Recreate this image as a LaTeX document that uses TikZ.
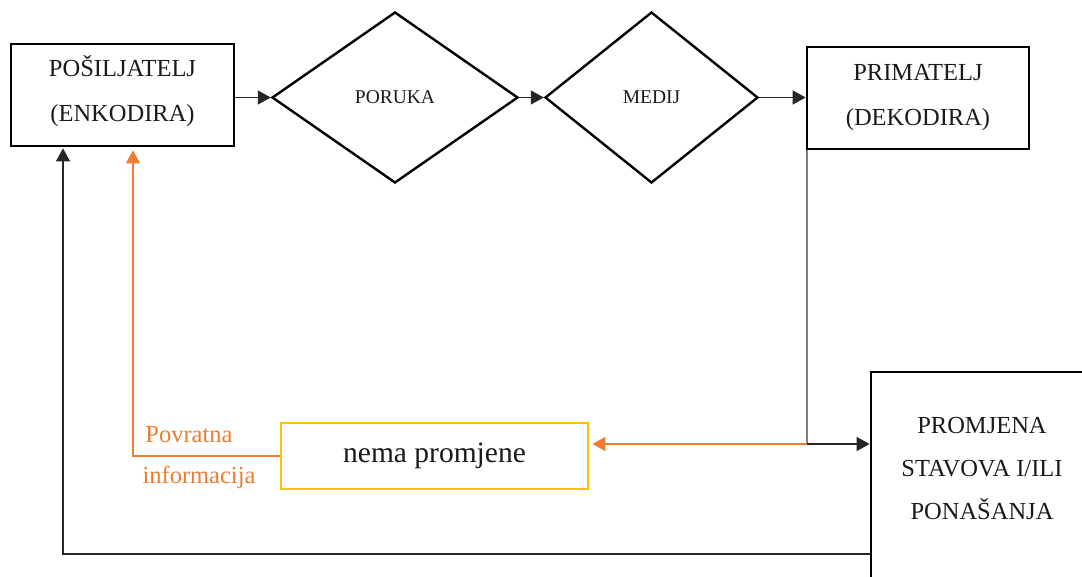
\documentclass[tikz,border=0pt]{standalone}
\usepackage{fontspec}
\setmainfont{Liberation Serif}
\usetikzlibrary{shapes.geometric,arrows.meta}
\definecolor{orng}{HTML}{ED7D31}
\definecolor{ylw}{HTML}{FFC000}
\definecolor{ink}{HTML}{1A1A1A}
\begin{document}
\begin{tikzpicture}[x=1pt,y=-1pt,
  box/.style={draw=black,line width=2.7pt,rectangle,inner sep=0pt,align=center,text=ink,
    font=\fontsize{24.5}{45}\selectfont},
  dia/.style={draw=black,line width=2.4pt,diamond,inner sep=0pt,text=ink,
    font=\fontsize{19.5}{23}\selectfont},
  conn/.style={line width=1.1pt,draw=black!85},
  arr/.style={conn,-{Triangle[length=13pt,width=14pt]}},
  oarr/.style={line width=1.2pt,draw=orng,-{Triangle[length=13pt,width=14pt]}},
  lbl/.style={text=orng,inner sep=0pt,font=\fontsize{24.5}{29}\selectfont}]
\useasboundingbox (0,0) rectangle (1082,576);

\node[box,minimum width=223pt,minimum height=102pt,
  label={[text=ink,align=center,font=\fontsize{24.5}{45}\selectfont,yshift=4pt]center:POŠILJATELJ\\(ENKODIRA)}] (pos) at (122.5,95) {};
\node[dia,minimum width=246pt,minimum height=171pt] (por) at (395,97.5) {PORUKA};
\node[dia,minimum width=213pt,minimum height=171pt] (med) at (651.5,97.5) {MEDIJ};
\node[box,minimum width=222pt,minimum height=102pt] (pri) at (918,98) {PRIMATELJ\\(DEKODIRA)};
\node[box,minimum width=222pt,minimum height=230pt,
  label={[text=ink,align=center,font=\fontsize{24.5}{43}\selectfont,yshift=18pt]center:PROMJENA\\STAVOVA I/ILI\\PONAŠANJA}] (prom) at (982,487) {};
\node[box,draw=ylw,line width=2.7pt,minimum width=307pt,minimum height=66pt,
  font=\fontsize{29.5}{34}\selectfont] (nema) at (434.5,456) {nema promjene};

\node[lbl] (pv) at (189,435) {Povratna};
\node[lbl] (inf) at (199,477) {informacija};

\coordinate (j) at ([xshift=1.35pt]pri.south west |- 0,444);
\coordinate (o) at (133,456);
\coordinate (b) at (63,554);

\draw[arr] (pos.east |- por.west) -- (por.west);
\draw[arr] (por.east) -- (med.west);
\draw[arr] (med.east) -- (pri.west |- med.east);
\draw[line width=1.1pt,draw=black!50] (j |- pri.south) -- (j);
\draw[arr] (j) -- (j -| prom.west);
\draw[oarr,shorten >=3pt] (j) -- (j -| nema.east);
\draw[oarr,shorten >=3pt] (nema.west) -- (o) -- (o |- pos.south);
\draw[arr,shorten >=1pt] (b -| prom.west) -- (b) -- (b |- pos.south);
\end{tikzpicture}
\end{document}
